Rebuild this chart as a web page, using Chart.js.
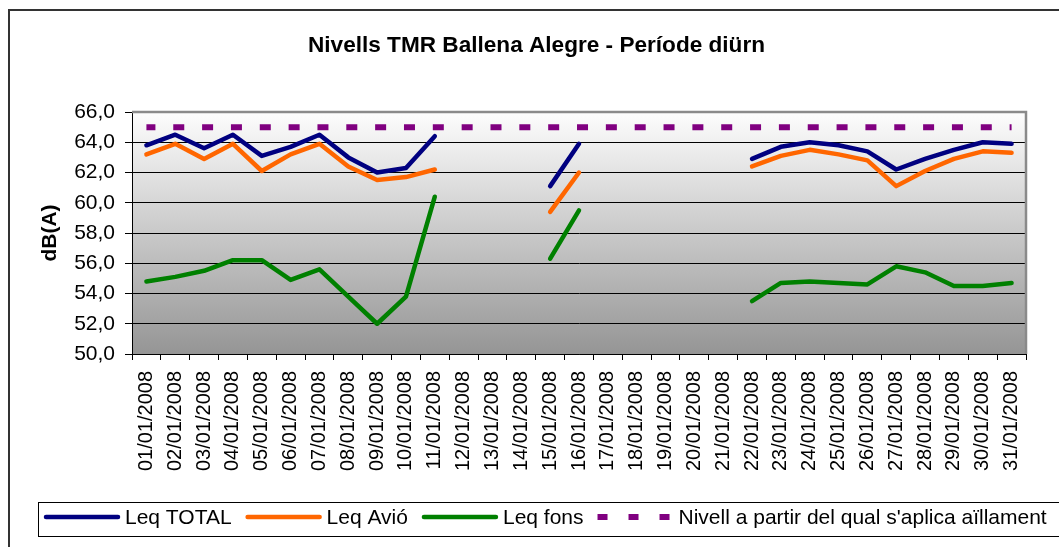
<!DOCTYPE html>
<html><head><meta charset="utf-8">
<script src="https://cdn.jsdelivr.net/npm/chart.js@4/dist/chart.umd.min.js"></script>
<style>html,body{margin:0;padding:0;background:#fff;overflow:hidden;}</style>
</head><body>
<canvas id="c" width="1059" height="547" style="display:block;width:1059px;height:547px"></canvas>
<script>
const categories = ['01/01/2008','02/01/2008','03/01/2008','04/01/2008','05/01/2008','06/01/2008','07/01/2008','08/01/2008','09/01/2008','10/01/2008','11/01/2008','12/01/2008','13/01/2008','14/01/2008','15/01/2008','16/01/2008','17/01/2008','18/01/2008','19/01/2008','20/01/2008','21/01/2008','22/01/2008','23/01/2008','24/01/2008','25/01/2008','26/01/2008','27/01/2008','28/01/2008','29/01/2008','30/01/2008','31/01/2008'];
const leqTotal = [63.8, 64.5, 63.6, 64.5, 63.1, 63.7, 64.5, 63.0, 62.0, 62.3, 64.4, null, null, null, 61.1, 63.9, null, null, null, null, null, 62.9, 63.7, 64.0, 63.8, 63.4, 62.2, 62.9, 63.5, 64.0, 63.9];
const leqAvio  = [63.2, 63.9, 62.9, 63.9, 62.1, 63.2, 63.9, 62.4, 61.5, 61.7, 62.2, null, null, null, 59.4, 62.0, null, null, null, null, null, 62.4, 63.1, 63.5, 63.2, 62.8, 61.1, 62.1, 62.9, 63.4, 63.3];
const leqFons  = [54.8, 55.1, 55.5, 56.2, 56.2, 54.9, 55.6, 53.8, 52.0, 53.8, 60.4, null, null, null, 56.3, 59.5, null, null, null, null, null, 53.5, 54.7, 54.8, 54.7, 54.6, 55.8, 55.4, 54.5, 54.5, 54.7];
const nivell   = [65, 65, 65, 65, 65, 65, 65, 65, 65, 65, 65, 65, 65, 65, 65, 65, 65, 65, 65, 65, 65, 65, 65, 65, 65, 65, 65, 65, 65, 65, 65];
const seriesLabels = ['Leq TOTAL', 'Leq Avió', 'Leq fons', "Nivell a partir del qual s'aplica aïllament"];
const seriesColors = ['#000080', '#FF6600', '#008000', '#800080'];
const titleText = 'Nivells TMR Ballena Alegre - Període diürn';
const yTitle = 'dB(A)';

const FONT = "'Liberation Sans', Arial, sans-serif";

const frame = {
  id: 'frame',
  beforeDraw(chart) {
    const ctx = chart.ctx, a = chart.chartArea;
    ctx.save();
    ctx.fillStyle = '#fff';
    ctx.fillRect(0, 0, chart.width, chart.height);
    ctx.strokeStyle = '#333';
    ctx.lineWidth = 2;
    ctx.beginPath();
    ctx.moveTo(9, chart.height + 5);
    ctx.lineTo(9, 10);
    ctx.lineTo(chart.width + 5, 10);
    ctx.stroke();
    const g = ctx.createLinearGradient(0, a.top, 0, a.bottom);
    g.addColorStop(0, '#fdfdfd');
    g.addColorStop(1, '#959595');
    ctx.fillStyle = g;
    ctx.fillRect(a.left, a.top, a.right - a.left, a.bottom - a.top);
    ctx.restore();
  },
  beforeDatasetsDraw(chart) {
    const ctx = chart.ctx, a = chart.chartArea;
    ctx.save();
    ctx.strokeStyle = '#8a8a8a';
    ctx.lineWidth = 2.5;
    ctx.beginPath();
    ctx.moveTo(a.left, a.top);
    ctx.lineTo(a.right, a.top);
    ctx.lineTo(a.right, a.bottom);
    ctx.stroke();
    ctx.restore();
  },
  afterDraw(chart) {
    const ctx = chart.ctx;
    ctx.save();
    ctx.strokeStyle = '#000';
    ctx.lineWidth = 1;
    ctx.strokeRect(38.5, 502.5, 1100, 34);
    ctx.font = '21px ' + FONT;
    ctx.fillStyle = '#000';
    ctx.textBaseline = 'middle';
    ctx.textAlign = 'left';
    let x = 44;
    const ly = 517;
    chart.data.datasets.forEach((ds) => {
      ctx.beginPath();
      if (ds.borderDash && ds.borderDash.length) {
        ctx.setLineDash([10, 21]);
        ctx.lineCap = 'butt';
        ctx.lineWidth = 6;
        ctx.moveTo(x, ly);
        ctx.lineTo(x + 76, ly);
      } else {
        ctx.setLineDash([]);
        ctx.lineCap = 'round';
        ctx.lineWidth = 4.5;
        ctx.moveTo(x + 2, ly);
        ctx.lineTo(x + 74, ly);
      }
      ctx.strokeStyle = ds.borderColor;
      ctx.stroke();
      ctx.setLineDash([]);
      const tx = x + 81;
      ctx.fillText(ds.label, tx, ly + 1);
      x = tx + ctx.measureText(ds.label).width + 14;
    });
    ctx.restore();
  }
};

const mk = (i, data, extra) => Object.assign({
  label: seriesLabels[i], data, borderColor: seriesColors[i], backgroundColor: seriesColors[i],
  borderWidth: 4.5, pointRadius: 0, pointHoverRadius: 0, tension: 0, spanGaps: false,
  borderCapStyle: 'round', borderJoinStyle: 'round', fill: false
}, extra || {});

new Chart(document.getElementById('c'), {
  type: 'line',
  data: {
    labels: categories,
    datasets: [
      mk(0, leqTotal),
      mk(1, leqAvio),
      mk(2, leqFons),
      mk(3, nivell, { borderWidth: 6, borderDash: [11, 17.84], borderDashOffset: 2, borderCapStyle: 'butt' })
    ]
  },
  options: {
    responsive: false,
    animation: false,
    devicePixelRatio: 1,
    layout: { padding: { top: 0, left: 14, right: 0, bottom: 63 } },
    plugins: {
      legend: { display: false },
      tooltip: { enabled: false },
      title: {
        display: true, text: titleText, color: '#000',
        font: { family: FONT, size: 22.6, weight: 'bold' },
        padding: { top: 32.5, bottom: 52.4 }
      }
    },
    scales: {
      x: {
        offset: true,
        grid: { offset: true, drawOnChartArea: false, drawTicks: true, tickLength: 6, color: '#000' },
        border: { display: true, color: '#000', width: 1 },
        ticks: { autoSkip: false, maxRotation: 90, minRotation: 90, padding: 11, color: '#000',
                 font: { family: FONT, size: 20 } },
        afterFit(s) { s.height = 130; }
      },
      y: {
        min: 50, max: 66,
        grid: { color: '#000', lineWidth: 1, tickLength: 7 },
        border: { display: true, color: '#000', width: 1 },
        ticks: { stepSize: 2, padding: 10, color: '#000', font: { family: FONT, size: 21 },
                 callback: v => v.toFixed(1).replace('.', ',') },
        title: { display: true, text: yTitle, color: '#000', font: { family: FONT, size: 21, weight: 'bold' },
                 padding: { top: 24, bottom: 0 } },
        afterFit(s) { s.width = 118; }
      },
      yRight: {
        type: 'linear', position: 'right', display: true,
        grid: { display: false, drawTicks: false },
        border: { display: false },
        ticks: { display: false },
        afterFit(s) { s.width = 33; }
      }
    }
  },
  plugins: [frame]
});
</script>
</body></html>
